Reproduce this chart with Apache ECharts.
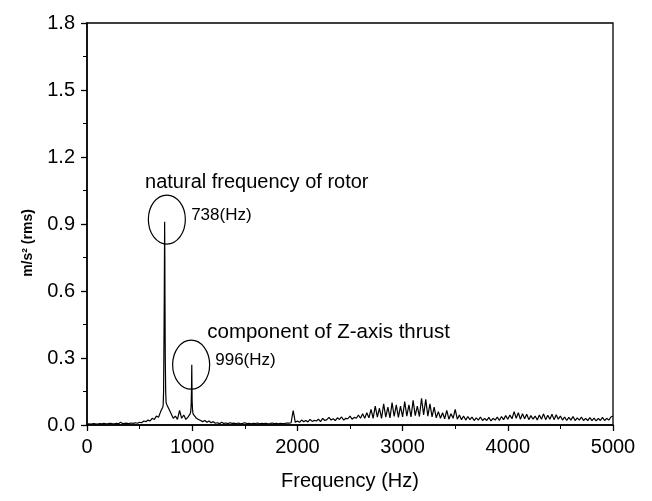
<!DOCTYPE html>
<html>
<head>
<meta charset="utf-8">
<script src="https://cdn.jsdelivr.net/npm/echarts@6/dist/echarts.min.js"></script>
<style>html,body{margin:0;padding:0;background:#fff;}#c{width:652px;height:501px;}</style>
</head>
<body>
<div id="c"></div>
<script>
// Spectrum amplitude on a 20 Hz grid, 0 .. 5000 Hz (m/s^2 rms)
var gridStartHz = 0;
var gridStepHz = 20;
var gridAmps = [
  0.004,0.005,0.004,0.006,0.005,0.004,0.006,0.005,0.007,0.005,
  0.006,0.008,0.006,0.005,0.007,0.006,0.012,0.006,0.007,0.008,
  0.006,0.009,0.007,0.010,0.008,0.012,0.010,0.018,0.015,0.022,
  0.018,0.030,0.025,0.040,0.035,0.060,0.080,0.750,0.090,0.070,
  0.050,0.030,0.040,0.025,0.065,0.030,0.045,0.025,0.035,0.050,
  0.100,0.050,0.030,0.025,0.020,0.015,0.020,0.012,0.018,0.010,
  0.015,0.008,0.010,0.006,0.012,0.007,0.009,0.006,0.010,0.007,
  0.008,0.006,0.009,0.005,0.007,0.010,0.006,0.008,0.005,0.007,
  0.006,0.009,0.005,0.007,0.006,0.008,0.005,0.006,0.009,0.006,
  0.007,0.005,0.008,0.006,0.007,0.009,0.008,0.010,0.065,0.012,
  0.018,0.012,0.022,0.015,0.020,0.014,0.025,0.016,0.021,0.018,
  0.026,0.015,0.030,0.020,0.024,0.034,0.022,0.028,0.020,0.032,
  0.025,0.036,0.022,0.030,0.028,0.040,0.026,0.034,0.030,0.045,
  0.030,0.050,0.030,0.055,0.032,0.070,0.030,0.085,0.035,0.075,
  0.030,0.095,0.035,0.080,0.032,0.100,0.038,0.090,0.034,0.085,
  0.036,0.105,0.040,0.090,0.036,0.110,0.042,0.085,0.038,0.120,
  0.045,0.115,0.040,0.095,0.036,0.080,0.032,0.060,0.030,0.055,
  0.028,0.065,0.026,0.050,0.030,0.070,0.026,0.045,0.024,0.040,
  0.022,0.038,0.024,0.035,0.020,0.032,0.022,0.036,0.020,0.030,
  0.020,0.034,0.018,0.030,0.022,0.035,0.020,0.038,0.024,0.042,
  0.026,0.045,0.028,0.060,0.030,0.055,0.026,0.050,0.028,0.048,
  0.024,0.042,0.026,0.040,0.022,0.045,0.026,0.050,0.024,0.044,
  0.026,0.048,0.024,0.046,0.026,0.040,0.022,0.036,0.020,0.034,
  0.022,0.038,0.020,0.032,0.022,0.035,0.020,0.030,0.020,0.033,
  0.020,0.031,0.018,0.030,0.020,0.034,0.020,0.030,0.022,0.036,
  0.040
];
// Fine-resolution points around the two resonance peaks
var peakFreqs = [724, 728, 732, 735, 738, 741, 744, 748, 752, 986, 990, 993, 996, 999, 1003, 1008];
var peakAmps  = [0.09, 0.15, 0.40, 0.62, 0.91, 0.60, 0.30, 0.15, 0.10, 0.06, 0.09, 0.15, 0.27, 0.12, 0.07, 0.05];

// Axis ticks
var xTicks = [0, 1000, 2000, 3000, 4000, 5000];
var yTicks = [0.0, 0.3, 0.6, 0.9, 1.2, 1.5, 1.8];

// Annotations (data coordinates)
var annoTexts = ['natural frequency of rotor', '738(Hz)', 'component of Z-axis thrust', '996(Hz)'];
var annoFreq  = [552, 990, 1143, 1219];
var annoAmp   = [1.084, 0.94, 0.416, 0.29];
var annoSize  = [20, 17, 20.5, 17];
var ringFreq  = [759, 990];
var ringAmp   = [0.92, 0.27];

var pts = [];
for (var i = 0; i < gridAmps.length; i++) pts.push([gridStartHz + i * gridStepHz, gridAmps[i]]);
for (var j = 0; j < peakFreqs.length; j++) pts.push([peakFreqs[j], peakAmps[j]]);
pts.sort(function (a, b) { return a[0] - b[0]; });

var FONT = '"Liberation Sans", Arial, sans-serif';
var chart = echarts.init(document.getElementById('c'), null, { renderer: 'canvas' });
var option = {
  animation: false,
  backgroundColor: '#fff',
  grid: { left: 87, right: 39, top: 23, bottom: 76, show: true, borderColor: '#000', borderWidth: 1.3, backgroundColor: 'transparent' },
  xAxis: {
    type: 'value', min: xTicks[0], max: xTicks[xTicks.length - 1], interval: 1000,
    name: 'Frequency (Hz)', nameLocation: 'middle', nameGap: 46,
    nameTextStyle: { color: '#000', fontSize: 20, fontFamily: FONT },
    axisLine: { lineStyle: { color: '#000', width: 1.5 } },
    axisTick: { show: true, inside: false, length: 6, lineStyle: { color: '#000', width: 1.3 } },
    minorTick: { show: true, splitNumber: 2, length: 4, lineStyle: { color: '#000', width: 1 } },
    splitLine: { show: false },
    axisLabel: { color: '#000', fontSize: 20, fontFamily: FONT, margin: 12, formatter: function (v) { return String(v); } }
  },
  yAxis: {
    type: 'value', min: yTicks[0], max: yTicks[yTicks.length - 1], interval: 0.3,
    axisLine: { show: true, lineStyle: { color: '#000', width: 1.5 } },
    axisTick: { show: true, inside: false, length: 6, lineStyle: { color: '#000', width: 1.3 } },
    minorTick: { show: true, splitNumber: 2, length: 4, lineStyle: { color: '#000', width: 1 } },
    splitLine: { show: false },
    axisLabel: { color: '#000', fontSize: 20, fontFamily: FONT, margin: 12, formatter: function (v) { return v.toFixed(1); } }
  },
  series: [{
    type: 'line', data: pts, showSymbol: false, symbol: 'none',
    lineStyle: { color: '#000', width: 1.2 }
  }]
};
chart.setOption(option);

var g = [];
for (var k = 0; k < annoTexts.length; k++) {
  var p = chart.convertToPixel({ gridIndex: 0 }, [annoFreq[k], annoAmp[k]]);
  g.push({ type: 'text', x: p[0], y: p[1], style: { text: annoTexts[k], fill: '#000', font: annoSize[k] + 'px ' + FONT, verticalAlign: 'middle' } });
}
for (var m = 0; m < ringFreq.length; m++) {
  var q = chart.convertToPixel({ gridIndex: 0 }, [ringFreq[m], ringAmp[m]]);
  g.push({ type: 'ellipse', shape: { cx: q[0], cy: q[1], rx: 18.5, ry: 24.5 }, style: { fill: 'none', stroke: '#000', lineWidth: 1.2 } });
}
g.push({ type: 'text', x: 28, y: 243, rotation: Math.PI / 2, style: { text: 'm/s\u00B2 (rms)', fill: '#000', font: 'bold 14px ' + FONT, align: 'center', verticalAlign: 'middle' } });
chart.setOption({ graphic: g });
</script>
</body>
</html>
